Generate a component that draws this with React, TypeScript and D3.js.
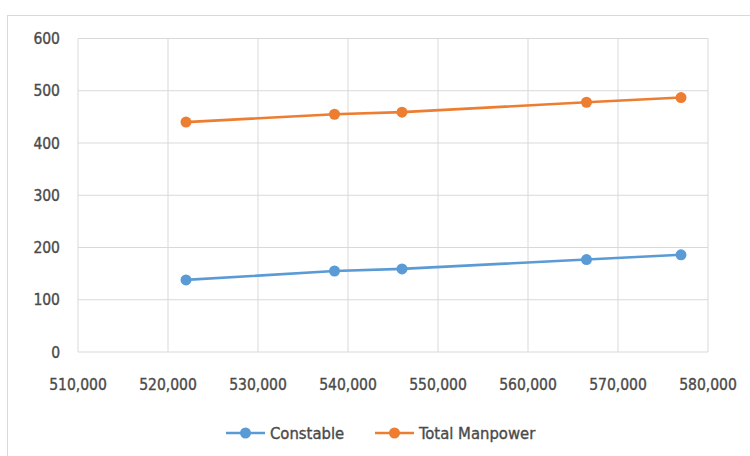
import React from "react";
import * as d3 from "d3";

// Population (x) against police strength (y)
const population = [522000, 538500, 546000, 566500, 577000];
const constable = [138, 155, 159, 177, 186];
const totalManpower = [440, 455, 459, 478, 487];

const xTicks = [510000, 520000, 530000, 540000, 550000, 560000, 570000, 580000];
const yTicks = [0, 100, 200, 300, 400, 500, 600];

const seriesNames = ["Constable", "Total Manpower"];
const seriesColors = ["#5B9BD5", "#ED7D31"];

const W = 750;
const H = 456;
const FONT = "'DejaVu Sans Condensed', 'DejaVu Sans', sans-serif";

export default function App() {
  const x = d3.scaleLinear().domain([510000, 580000]).range([78, 708]);
  const y = d3.scaleLinear().domain([0, 600]).range([352, 38.5]);
  const fmt = d3.format(",");

  const series = [constable, totalManpower];
  const line = d3
    .line<[number, number]>()
    .x((d) => x(d[0]))
    .y((d) => y(d[1]));

  const grid = "#d9d9d9";
  const textColor = "#4a4a4a";
  const textProps = {
    fontFamily: FONT,
    fill: textColor,
    stroke: textColor,
    strokeWidth: 0.35,
  };

  return (
    <svg
      width={W}
      height={H}
      style={{ position: "absolute", left: 0, top: 0, background: "#fff" }}
    >
      <rect x={7.5} y={15.5} width={W + 10} height={H + 10} fill="#fff" stroke="#d9d9d9" />

      {yTicks.map((t) => (
        <line key={"gy" + t} x1={x(510000)} x2={x(580000)} y1={y(t)} y2={y(t)} stroke={grid} strokeWidth={1} />
      ))}
      {xTicks.map((t) => (
        <line key={"gx" + t} x1={x(t)} x2={x(t)} y1={y(0)} y2={y(600)} stroke={grid} strokeWidth={1} />
      ))}

      {yTicks.map((t) => (
        <text key={"ty" + t} x={60} y={y(t)} dy="0.36em" textAnchor="end" fontSize={15.5} {...textProps}>
          {t}
        </text>
      ))}
      {xTicks.map((t) => (
        <text key={"tx" + t} x={x(t)} y={384} dy="0.36em" textAnchor="middle" fontSize={15.5} {...textProps}>
          {fmt(t)}
        </text>
      ))}

      {series.map((vals, i) => {
        const pts = population.map((p, j) => [p, vals[j]] as [number, number]);
        return (
          <g key={"s" + i}>
            <path d={line(pts) || ""} fill="none" stroke={seriesColors[i]} strokeWidth={2.6} />
            {pts.map((d, j) => (
              <circle key={j} cx={x(d[0])} cy={y(d[1])} r={5.5} fill={seriesColors[i]} />
            ))}
          </g>
        );
      })}

      {seriesNames.map((name, i) => {
        const lx = i === 0 ? 226 : 375;
        return (
          <g key={"lg" + i}>
            <line x1={lx} x2={lx + 39} y1={433} y2={433} stroke={seriesColors[i]} strokeWidth={2.6} />
            <circle cx={lx + 19.5} cy={433} r={5.5} fill={seriesColors[i]} />
            <text x={lx + 44} y={433} dy="0.36em" fontSize={16.5} {...textProps}>
              {name}
            </text>
          </g>
        );
      })}
    </svg>
  );
}
